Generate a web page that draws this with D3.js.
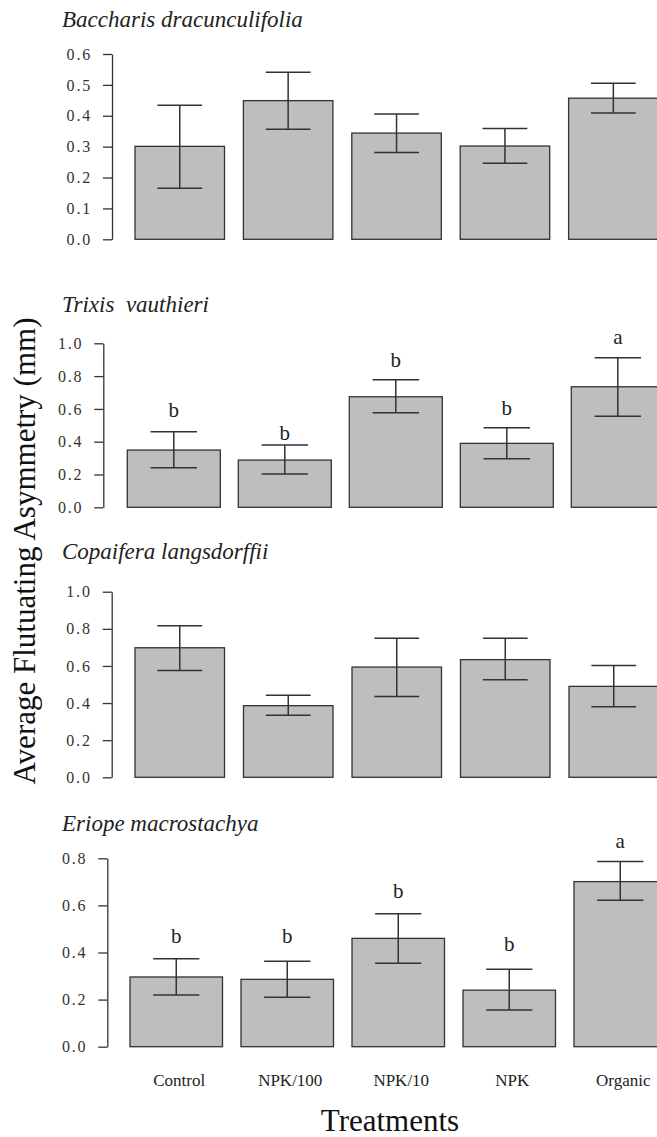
<!DOCTYPE html>
<html>
<head>
<meta charset="utf-8">
<script src="https://cdn.jsdelivr.net/npm/d3@7"></script>
<style>
  html, body { margin: 0; padding: 0; background: #fff; }
  svg { display: block; overflow: hidden; }
</style>
</head>
<body>
<svg id="chart" width="657" height="1137"></svg>
<script>
// Treatments on the x axis
const treatments = ["Control", "NPK/100", "NPK/10", "NPK", "Organic"];

// Species shown, one panel each
const species = ["Baccharis dracunculifolia", "Trixis  vauthieri", "Copaifera langsdorffii", "Eriope macrostachya"];

// Mean fluctuating asymmetry (mm) and error-bar limits per treatment
const baccharisMean = [0.301, 0.449, 0.344, 0.302, 0.457];
const baccharisLow  = [0.165, 0.356, 0.281, 0.246, 0.409];
const baccharisHigh = [0.434, 0.541, 0.406, 0.359, 0.505];

const trixisMean = [0.349, 0.288, 0.674, 0.390, 0.735];
const trixisLow  = [0.241, 0.203, 0.577, 0.296, 0.555];
const trixisHigh = [0.461, 0.380, 0.777, 0.485, 0.912];
const trixisLetters = ["b", "b", "b", "b", "a"];
const trixisLetterAt = [0.552, 0.410, 0.854, 0.563, 0.996];

const copaiferaMean = [0.698, 0.386, 0.594, 0.634, 0.490];
const copaiferaLow  = [0.576, 0.334, 0.436, 0.526, 0.380];
const copaiferaHigh = [0.817, 0.442, 0.749, 0.749, 0.603];

const eriopeMean = [0.296, 0.286, 0.460, 0.240, 0.701];
const eriopeLow  = [0.220, 0.210, 0.354, 0.156, 0.622];
const eriopeHigh = [0.373, 0.363, 0.565, 0.329, 0.786];
const eriopeLetters = ["b", "b", "b", "b", "a"];
const eriopeLetterAt = [0.440, 0.440, 0.630, 0.407, 0.845];

// Axis limits and tick steps per panel
const yMax = [0.6, 1.0, 1.0, 0.8];
const yStep = [0.1, 0.2, 0.2, 0.2];

const panels = [
  { mean: baccharisMean, low: baccharisLow, high: baccharisHigh, letters: null, letterAt: null },
  { mean: trixisMean, low: trixisLow, high: trixisHigh, letters: trixisLetters, letterAt: trixisLetterAt },
  { mean: copaiferaMean, low: copaiferaLow, high: copaiferaHigh, letters: null, letterAt: null },
  { mean: eriopeMean, low: eriopeLow, high: eriopeHigh, letters: eriopeLetters, letterAt: eriopeLetterAt }
];

// Panel geometry (pixels)
const frames = [
  { axisX: 112.0, yBottom: 239.3, yTop: 54.0,  barLeft: 135.0, step: 108.4, barW: 89.5, titleY: 27 },
  { axisX: 103.3, yBottom: 507.3, yTop: 343.3, barLeft: 127.3, step: 111.0, barW: 93.0, titleY: 312 },
  { axisX: 111.7, yBottom: 777.3, yTop: 591.7, barLeft: 135.0, step: 108.5, barW: 89.5, titleY: 559 },
  { axisX: 107.3, yBottom: 1046.7, yTop: 858.3, barLeft: 130.0, step: 111.0, barW: 92.5, titleY: 831 }
];

const ink = "#333333";
const barFill = "#bebebe";
const serif = "Liberation Serif";

const svg = d3.select("#chart");
svg.append("rect").attr("width", 657).attr("height", 1137).attr("fill", "#fff");

panels.forEach((p, k) => {
  const f = frames[k];
  const g = svg.append("g");

  const y = d3.scaleLinear().domain([0, yMax[k]]).range([f.yBottom, f.yTop]);
  const pad = (f.step - f.barW) / f.step;
  const x = d3.scaleBand()
    .domain(treatments)
    .range([f.barLeft, f.barLeft + 4 * f.step + f.barW])
    .paddingInner(pad)
    .paddingOuter(0);

  // species name
  g.append("text")
    .attr("x", 62).attr("y", f.titleY)
    .style("font-family", serif).style("font-style", "italic")
    .style("font-size", "23px").attr("fill", "#222")
    .style("white-space", "pre")
    .text(species[k]);

  // y axis
  const ticks = d3.range(0, yMax[k] + 1e-9, yStep[k]);
  const axis = g.append("g")
    .attr("transform", `translate(${f.axisX},0)`)
    .call(d3.axisLeft(y).tickValues(ticks).tickFormat(d3.format(".1f"))
      .tickSize(9).tickSizeOuter(0).tickPadding(11));
  axis.attr("font-family", null).attr("font-size", null);
  axis.select(".domain").attr("stroke", ink).attr("stroke-width", 1.3);
  axis.selectAll(".tick line").attr("stroke", ink).attr("stroke-width", 1.3);
  axis.selectAll(".tick text")
    .style("font-family", serif)
    .style("font-size", "16px").attr("fill", "#333")
    .style("letter-spacing", "1.8px");

  const rows = treatments.map((t, i) => ({ t, m: p.mean[i], lo: p.low[i], hi: p.high[i], i }));

  // bars
  g.selectAll("rect.bar").data(rows).join("rect")
    .attr("class", "bar")
    .attr("x", d => x(d.t))
    .attr("y", d => y(d.m))
    .attr("width", x.bandwidth())
    .attr("height", d => y(0) - y(d.m))
    .attr("fill", barFill)
    .attr("stroke", ink)
    .attr("stroke-width", 1.3);

  // error bars
  const eb = g.selectAll("g.err").data(rows).join("g").attr("class", "err")
    .attr("stroke", ink).attr("stroke-width", 1.5);
  eb.append("line")
    .attr("x1", d => x(d.t) + x.bandwidth() / 2).attr("x2", d => x(d.t) + x.bandwidth() / 2)
    .attr("y1", d => y(d.lo)).attr("y2", d => y(d.hi));
  eb.append("line")
    .attr("x1", d => x(d.t) + x.bandwidth() / 4).attr("x2", d => x(d.t) + 3 * x.bandwidth() / 4)
    .attr("y1", d => y(d.hi)).attr("y2", d => y(d.hi));
  eb.append("line")
    .attr("x1", d => x(d.t) + x.bandwidth() / 4).attr("x2", d => x(d.t) + 3 * x.bandwidth() / 4)
    .attr("y1", d => y(d.lo)).attr("y2", d => y(d.lo));

  // significance letters
  if (p.letters) {
    g.selectAll("text.sig").data(rows).join("text")
      .attr("class", "sig")
      .attr("x", d => x(d.t) + x.bandwidth() / 2)
      .attr("y", d => y(p.letterAt[d.i]))
      .attr("text-anchor", "middle")
      .style("font-family", serif).style("font-size", "21px").attr("fill", "#222")
      .text(d => p.letters[d.i]);
  }

  // treatment names under the last panel
  if (k === panels.length - 1) {
    g.selectAll("text.cat").data(rows).join("text")
      .attr("class", "cat")
      .attr("x", d => x(d.t) + x.bandwidth() / 2 + 3)
      .attr("y", 1086)
      .attr("text-anchor", "middle")
      .style("font-family", serif).style("font-size", "17px").attr("fill", "#222")
      .text(d => d.t);
  }
});

// axis titles
svg.append("text")
  .attr("x", 390).attr("y", 1131)
  .attr("text-anchor", "middle")
  .style("font-family", serif).style("font-size", "31px").attr("fill", "#111")
  .text("Treatments");

svg.append("text")
  .attr("transform", "translate(35,551) rotate(-90)")
  .attr("text-anchor", "middle")
  .style("font-family", serif).style("font-size", "31px").attr("fill", "#111")
  .text("Average Flutuating Asymmetry (mm)");
</script>
</body>
</html>
